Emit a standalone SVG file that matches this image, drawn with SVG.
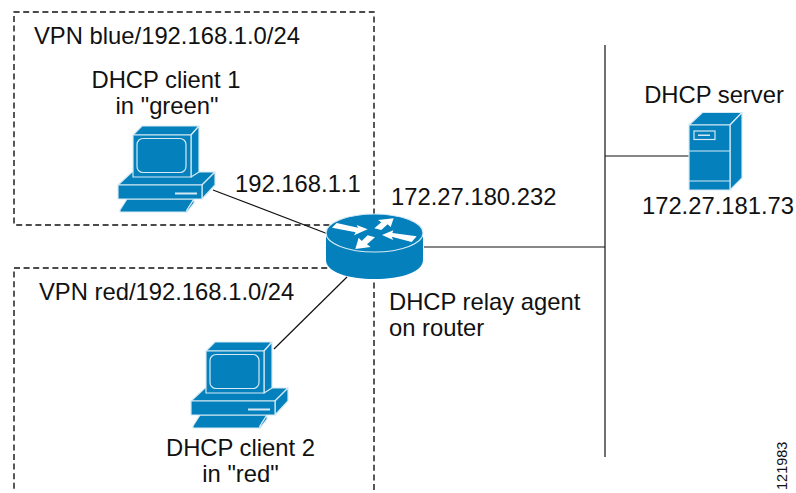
<svg xmlns="http://www.w3.org/2000/svg" xmlns:xlink="http://www.w3.org/1999/xlink" width="796" height="493" viewBox="0 0 796 493">
<style>
text{font-family:"Liberation Sans",Arial,sans-serif;font-size:23.8px;fill:#111}
.c{text-anchor:middle}
.z{fill:none;stroke:#111;stroke-width:1.4;stroke-dasharray:6 3.6}
.l{fill:none;stroke:#111;stroke-width:1.2}
.b{fill:#0480bc;stroke:#d5e9f4;stroke-width:1.2;stroke-linejoin:round}
.t{fill:none;stroke:#d5e9f4;stroke-width:1.2}
</style>
<defs>
<g id="pc">
<path class="b" d="M2 84L9 73H76L69 84V86H2Z"/>
<path class="b" d="M69 84L76 73V77L69 86Z"/>
<path class="b" d="M0 59L14 46H97L84 59Z"/>
<path class="b" d="M84 59L97 46V59L84 73Z"/>
<rect class="b" x="0" y="59" width="84" height="14"/>
<rect x="57" y="66.500" width="22" height="2" fill="#d5e9f4"/>
<path class="b" d="M15 9L24 0H81L73 9Z"/>
<path class="b" d="M73 9L81 0V46L73 51Z"/>
<rect class="b" x="15" y="9" width="58" height="42"/>
<rect class="t" x="19" y="12.500" width="49" height="34" rx="6"/>
</g>
</defs>
<g id="zones">
<path class="z" d="M374 224V12H14V225H374"/>
<path class="z" d="M374 490V268H14V490"/>
</g>
<g id="connectors">
<path class="l" d="M213 190L328 234"/>
<path class="l" d="M274 349L347 277"/>
<path class="l" d="M424 247H605"/>
<path class="l" d="M605 45V457"/>
<path class="l" d="M605 156H689"/>
</g>
<g id="client1">
<use xlink:href="#pc" href="#pc" transform="translate(118 126)"/>
<text class="c" x="166" y="88">DHCP client 1</text>
<text class="c" x="167" y="114">in "green"</text>
</g>
<g id="client2">
<use xlink:href="#pc" href="#pc" transform="translate(191 342)"/>
<text class="c" x="240.500" y="456">DHCP client 2</text>
<text class="c" x="240.500" y="482">in "red"</text>
</g>
<g id="router">
<path d="M326 233V260C326 272 348 279 374.500 279C401 279 423 272 423 260V233Z" fill="#0480bc"/>
<ellipse cx="374.500" cy="233" rx="48.500" ry="19" fill="#0480bc" stroke="#d5e9f4" stroke-width="1.200"/>
<g fill="#fff" transform="translate(310 205) scale(.3333)">
<path d="M66 68L80 54L144 68L140 60L173 73L132 91L137 82Z"/>
<path d="M193 70L214 75L233 58L242 66L251 40L204 45L214 52Z"/>
<path d="M173 91L195 97L171 118L182 126L136 132L146 98L155 108Z"/>
<path d="M320 94L305 111L245 95L250 105L216 90L250 76L247 84Z"/>
</g>
</g>
<g id="server">
<path class="b" d="M689 125L702.500 112.500H742L730 125Z"/>
<path class="b" d="M730 125L742 112.500V178L730 190Z"/>
<rect class="b" x="689" y="125" width="41" height="65"/>
<path class="t" d="M689 151H730M689 181H730"/>
<rect class="t" x="694" y="131" width="21" height="8.500"/>
<rect x="698" y="134.500" width="12" height="1.500" fill="#d5e9f4"/>
<text class="c" x="714" y="103">DHCP server</text>
<text class="c" x="718" y="214">172.27.181.73</text>
</g>
<text x="34" y="44">VPN blue/192.168.1.0/24</text>
<text x="39" y="300">VPN red/192.168.1.0/24</text>
<text x="235" y="192">192.168.1.1</text>
<text x="391" y="205">172.27.180.232</text>
<text x="389" y="310">DHCP relay agent</text>
<text x="389" y="336">on router</text>
<text transform="translate(787 490) rotate(-90)" style="font-size:14.500px">121983</text>
</svg>
